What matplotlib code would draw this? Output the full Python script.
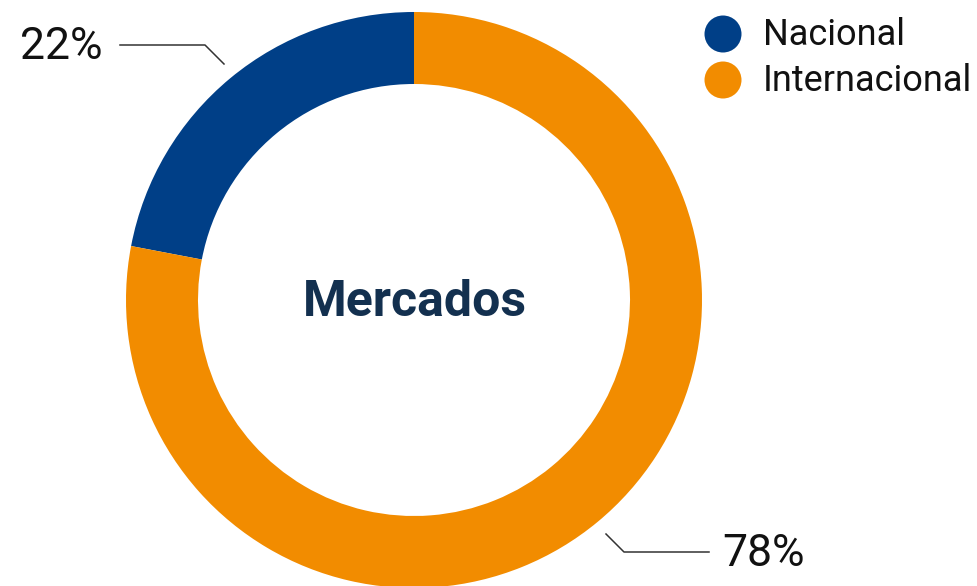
import matplotlib.pyplot as plt
from matplotlib.patches import Circle

# datos
categorias = ["Nacional", "Internacional"]
valores = [22, 78]
etiquetas = ["22%", "78%"]
colores = ["#003F87", "#F28C00"]

W, H = 978, 586
plt.rcParams['font.family'] = ['Roboto', 'DejaVu Sans']

fig = plt.figure(figsize=(W / 100, H / 100), dpi=100)
ax = fig.add_axes([0, 0, 1, 1])

def py(y):  # y en pixeles desde arriba -> coordenada de datos
    return H - y

# dona
cx, cy, r = 414, 300, 288
ax.pie(valores, colors=colores, startangle=90, counterclock=True,
       center=(cx, py(cy)), radius=r, frame=True,
       wedgeprops=dict(width=r * 0.25, linewidth=0))
ax.set_xlim(0, W)
ax.set_ylim(0, H)
ax.set_aspect('equal')
ax.axis('off')

ax.text(cx + 1, py(302), "Mercados", ha='center', va='center',
        fontsize=36, fontweight='bold', color='#13304F')

# lineas guia y etiquetas
ax.plot([224, 205, 120], [py(64), py(45), py(45)], color='#333333', lw=1.1)
ax.text(103, py(47), etiquetas[0], ha='right', va='center', fontsize=32, color='#111111')
ax.plot([606, 624, 709], [py(534), py(552), py(552)], color='#333333', lw=1.1)
ax.text(722, py(554), etiquetas[1], ha='left', va='center', fontsize=32, color='#111111')

# leyenda
for i, (cat, col) in enumerate(zip(categorias, colores)):
    yy = 34 + i * 46
    ax.add_patch(Circle((723, py(yy)), 18.5, color=col, lw=0))
    ax.text(763, py(yy + 1), cat, ha='left', va='center', fontsize=26, color='#111111')

fig.savefig("out.png", dpi=100)
